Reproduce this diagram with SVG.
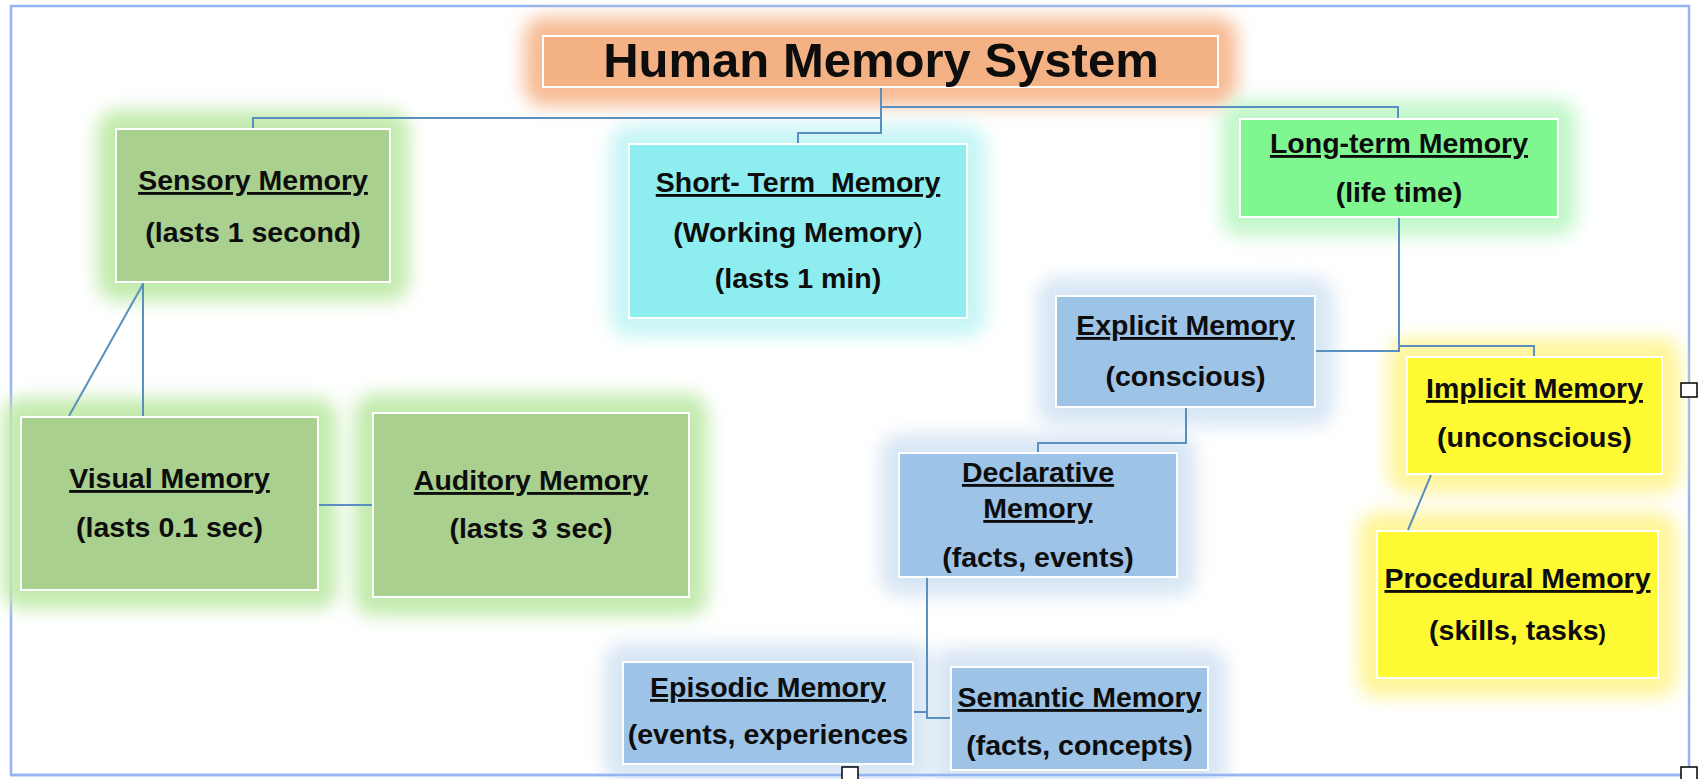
<svg xmlns="http://www.w3.org/2000/svg" width="1704" height="779" viewBox="0 0 1704 779">
<defs>
<filter id="blur" x="-30%" y="-50%" width="160%" height="200%"><feGaussianBlur stdDeviation="9"/></filter>
<style>
.t{font-family:"Liberation Sans",Arial,sans-serif;font-weight:bold;font-size:28.5px;fill:#0d0d0d;text-anchor:middle}
.u{text-decoration:underline}
.title{font-family:"Liberation Sans",Arial,sans-serif;font-weight:bold;font-size:49px;fill:#0d0d0d;text-anchor:middle}
.box{stroke:#ffffff;stroke-width:2}
.conn{fill:none;stroke:#5a90c0;stroke-width:2}
.frame{fill:#fff;stroke:#94b4f2;stroke-width:2.5}
.handle{fill:#fff;stroke:#000;stroke-width:1.5}
.g-green{fill:#c2ebad}
.g-cyan{fill:#c8f5f6}
.g-lt{fill:#c3f7cb}
.g-blue{fill:#d8e6f4}
.g-yel{fill:#fff59a}
.g-or{fill:#f8bb94}
</style>
</defs>
<rect class="frame" x="11" y="6" width="1678" height="769"/>

<g id="title">
<rect class="g-or" x="524" y="17" width="713" height="89" rx="20" filter="url(#blur)"/>
<rect class="box" x="543" y="36" width="675" height="51" fill="#f4b183"/>
<text class="title" x="881" y="77">Human Memory System</text>
</g>

<g id="sensory">
<rect class="g-green" x="97" y="110" width="312" height="191" rx="20" filter="url(#blur)"/>
<rect class="box" x="116" y="129" width="274" height="153" fill="#a9d08e"/>
<text class="t u" x="253" y="190">Sensory Memory</text>
<text class="t" x="253" y="242">(lasts 1 second)</text>
</g>

<g id="short-term">
<rect class="g-cyan" x="610" y="125" width="376" height="212" rx="20" filter="url(#blur)"/>
<rect class="box" x="629" y="144" width="338" height="174" fill="#8eedee"/>
<text class="t u" x="798" y="192" style="white-space:pre">Short- Term  Memory</text>
<text class="t" x="798" y="242">(Working Memory<tspan font-weight="normal">)</tspan></text>
<text class="t" x="798" y="288">(lasts 1 min)</text>
</g>

<g id="long-term">
<rect class="g-lt" x="1221" y="100" width="356" height="136" rx="20" filter="url(#blur)"/>
<rect class="box" x="1240" y="119" width="318" height="98" fill="#80f690"/>
<text class="t u" x="1399" y="153">Long-term Memory</text>
<text class="t" x="1399" y="202">(life time)</text>
</g>

<g id="explicit">
<rect class="g-blue" x="1037" y="277" width="297" height="149" rx="20" filter="url(#blur)"/>
<rect class="box" x="1056" y="296" width="259" height="111" fill="#9dc3e6"/>
<text class="t u" x="1185.5" y="335">Explicit Memory</text>
<text class="t" x="1185.5" y="386">(conscious)</text>
</g>

<g id="implicit">
<rect class="g-yel" x="1388" y="338" width="293" height="155" rx="20" filter="url(#blur)"/>
<rect class="box" x="1407" y="357" width="255" height="117" fill="#fff933"/>
<text class="t u" x="1534.5" y="398">Implicit Memory</text>
<text class="t" x="1534.5" y="447">(unconscious)</text>
</g>

<g id="visual">
<rect class="g-green" x="2" y="398" width="335" height="211" rx="20" filter="url(#blur)"/>
<rect class="box" x="21" y="417" width="297" height="173" fill="#a9d08e"/>
<text class="t u" x="169.5" y="488">Visual Memory</text>
<text class="t" x="169.5" y="537">(lasts 0.1 sec)</text>
</g>

<g id="auditory">
<rect class="g-green" x="354" y="394" width="354" height="222" rx="20" filter="url(#blur)"/>
<rect class="box" x="373" y="413" width="316" height="184" fill="#a9d08e"/>
<text class="t u" x="531" y="490">Auditory Memory</text>
<text class="t" x="531" y="538">(lasts 3 sec)</text>
</g>

<g id="declarative">
<rect class="g-blue" x="880" y="434" width="316" height="162" rx="20" filter="url(#blur)"/>
<rect class="box" x="899" y="453" width="278" height="124" fill="#9dc3e6"/>
<text class="t u" x="1038" y="482">Declarative</text>
<text class="t u" x="1038" y="518">Memory</text>
<text class="t" x="1038" y="567">(facts, events)</text>
</g>

<g id="procedural">
<rect class="g-yel" x="1358" y="512" width="319" height="185" rx="20" filter="url(#blur)"/>
<rect class="box" x="1377" y="531" width="281" height="147" fill="#fff933"/>
<text class="t u" x="1517.5" y="588">Procedural Memory</text>
<text class="t" x="1517.5" y="640">(skills, tasks<tspan font-size="22">)</tspan></text>
</g>

<g id="episodic">
<rect class="g-blue" x="604" y="643" width="328" height="140" rx="20" filter="url(#blur)"/>
<rect class="box" x="623" y="662" width="290" height="102" fill="#9dc3e6"/>
<text class="t u" x="768" y="697">Episodic Memory</text>
<text class="t" x="768" y="744">(events, experiences</text>
</g>

<g id="semantic">
<rect class="g-blue" x="932" y="648" width="295" height="141" rx="20" filter="url(#blur)"/>
<rect class="box" x="951" y="667" width="257" height="103" fill="#9dc3e6"/>
<text class="t u" x="1079.5" y="707">Semantic Memory</text>
<text class="t" x="1079.5" y="755">(facts, concepts)</text>
</g>

<g id="connectors">
<path class="conn" d="M881,88 V133 H798 V143"/>
<path class="conn" d="M881,107 H1398 V118"/>
<path class="conn" d="M881,118 H253 V128"/>
<path class="conn" d="M143,283 V416"/>
<path class="conn" d="M143,284 L69,416"/>
<path class="conn" d="M319,505 H372"/>
<path class="conn" d="M1399,218 V351 H1316"/>
<path class="conn" d="M1399,346 H1534 V356"/>
<path class="conn" d="M1186,408 V443 H1038 V452"/>
<path class="conn" d="M927,578 V718 H950"/>
<path class="conn" d="M914,712 H927"/>
<path class="conn" d="M1431,475 L1408,530"/>
</g>

<line x1="11" y1="775" x2="1689" y2="775" stroke="#94b4f2" stroke-width="2.5"/>
<rect class="handle" x="1681" y="383" width="16" height="14"/>
<rect class="handle" x="842" y="767" width="16" height="16"/>
<rect class="handle" x="1681" y="767" width="16" height="16"/>
</svg>
